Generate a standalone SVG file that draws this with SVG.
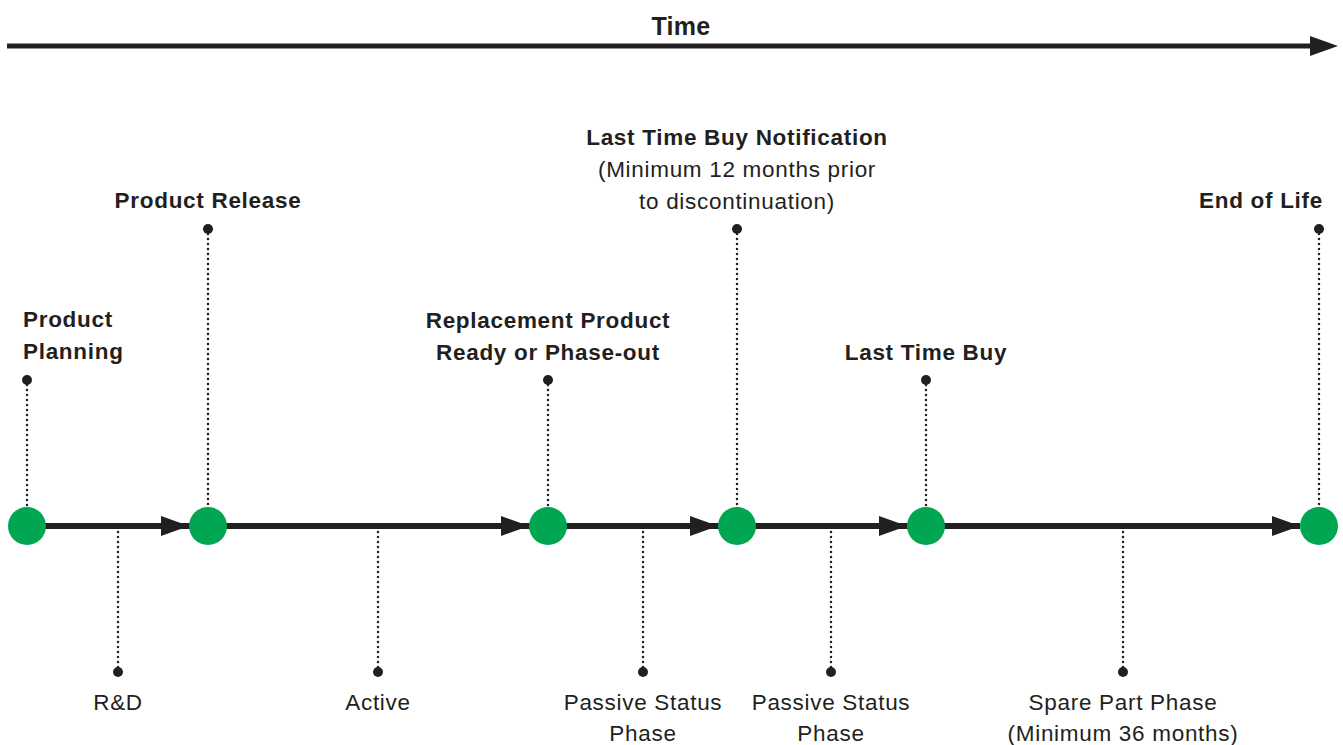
<svg xmlns="http://www.w3.org/2000/svg" width="1343" height="745" viewBox="0 0 1343 745">
<style>
text{font-family:"Liberation Sans",Arial,sans-serif;fill:#231f20;font-size:22.5px;letter-spacing:0.7px}
.b{font-weight:bold}
.m{text-anchor:middle}
.dot{stroke:#231f20;stroke-width:2.5;stroke-linecap:round;stroke-dasharray:0 5;fill:none}
.pin{fill:#231f20}
.node{fill:#00a651}
.ah{fill:#231f20}
</style>
<rect width="1343" height="745" fill="#fff"/>
<g id="time-axis">
<line x1="7" y1="46" x2="1314" y2="46" stroke="#231f20" stroke-width="5"/>
<polygon class="ah" points="1338,46 1310,36 1310,56"/>
<text class="b m" x="681" y="35" style="font-size:25px;letter-spacing:0.3px">Time</text>
</g>
<g id="connectors">
<line x1="27" y1="526" x2="1300" y2="526" stroke="#231f20" stroke-width="6"/>
<polygon class="ah" points="189,526 161,516 161,536"/>
<polygon class="ah" points="529,526 501,516 501,536"/>
<polygon class="ah" points="718,526 690,516 690,536"/>
<polygon class="ah" points="907,526 879,516 879,536"/>
<polygon class="ah" points="1300,526 1272,516 1272,536"/>
<line class="dot" x1="27" y1="385" x2="27" y2="510"/>
<line class="dot" x1="208" y1="234" x2="208" y2="510"/>
<line class="dot" x1="548" y1="385" x2="548" y2="510"/>
<line class="dot" x1="737" y1="234" x2="737" y2="510"/>
<line class="dot" x1="926" y1="385" x2="926" y2="510"/>
<line class="dot" x1="1319" y1="234" x2="1319" y2="510"/>
<line class="dot" x1="118" y1="532" x2="118" y2="668"/>
<line class="dot" x1="378" y1="532" x2="378" y2="668"/>
<line class="dot" x1="643" y1="532" x2="643" y2="668"/>
<line class="dot" x1="831" y1="532" x2="831" y2="668"/>
<line class="dot" x1="1123" y1="532" x2="1123" y2="668"/>
</g>
<g id="product-planning">
<circle class="node" cx="27" cy="526" r="19"/>
<circle class="pin" cx="27" cy="380" r="5"/>
<text class="b" x="23" y="327">Product</text>
<text class="b" x="23" y="359">Planning</text>
</g>
<g id="product-release">
<circle class="node" cx="208" cy="526" r="19"/>
<circle class="pin" cx="208" cy="229" r="5"/>
<text class="b m" x="208" y="208">Product Release</text>
</g>
<g id="replacement">
<circle class="node" cx="548" cy="526" r="19"/>
<circle class="pin" cx="548" cy="380" r="5"/>
<text class="b m" x="548" y="328">Replacement Product</text>
<text class="b m" x="548" y="360">Ready or Phase-out</text>
</g>
<g id="ltb-notification">
<circle class="node" cx="737" cy="526" r="19"/>
<circle class="pin" cx="737" cy="229" r="5"/>
<text class="b m" x="737" y="145">Last Time Buy Notification</text>
<text class="m" x="737" y="177">(Minimum 12 months prior</text>
<text class="m" x="737" y="209">to discontinuation)</text>
</g>
<g id="last-time-buy">
<circle class="node" cx="926" cy="526" r="19"/>
<circle class="pin" cx="926" cy="380" r="5"/>
<text class="b m" x="926" y="360">Last Time Buy</text>
</g>
<g id="end-of-life">
<circle class="node" cx="1319" cy="526" r="19"/>
<circle class="pin" cx="1319" cy="229" r="5"/>
<text class="b m" x="1261" y="208">End of Life</text>
</g>
<g id="rd">
<circle class="pin" cx="118" cy="672" r="5"/>
<text class="m" x="118" y="710">R&amp;D</text>
</g>
<g id="active">
<circle class="pin" cx="378" cy="672" r="5"/>
<text class="m" x="378" y="710">Active</text>
</g>
<g id="passive-1">
<circle class="pin" cx="643" cy="672" r="5"/>
<text class="m" x="643" y="710">Passive Status</text>
<text class="m" x="643" y="741">Phase</text>
</g>
<g id="passive-2">
<circle class="pin" cx="831" cy="672" r="5"/>
<text class="m" x="831" y="710">Passive Status</text>
<text class="m" x="831" y="741">Phase</text>
</g>
<g id="spare-part">
<circle class="pin" cx="1123" cy="672" r="5"/>
<text class="m" x="1123" y="710">Spare Part Phase</text>
<text class="m" x="1123" y="741">(Minimum 36 months)</text>
</g>
</svg>
